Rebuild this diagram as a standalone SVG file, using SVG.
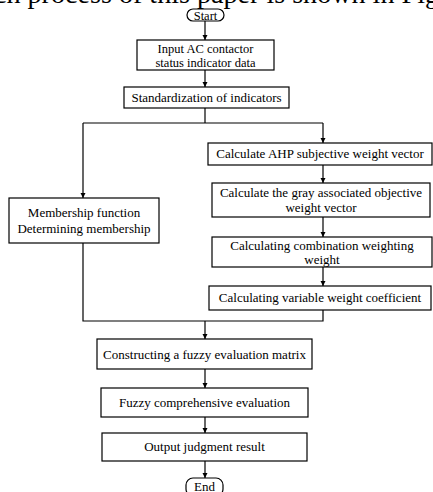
<svg xmlns="http://www.w3.org/2000/svg" width="433" height="492" viewBox="0 0 433 492">
<defs>
<style>
.box{fill:#fff;stroke:#000;stroke-width:1.2}
.t{font-family:"Liberation Serif","Times New Roman",serif;font-size:13px;fill:#000;text-anchor:middle}
.ln{fill:none;stroke:#000;stroke-width:1.2}
.bg{font-family:"Liberation Serif","Times New Roman",serif;font-size:27px;fill:#000}
</style>
<marker id="ah" viewBox="0 0 10 10" refX="10" refY="5" markerWidth="5" markerHeight="6" markerUnits="userSpaceOnUse" orient="auto">
<path d="M0,0 L10,5 L0,10 Z" fill="#000"/>
</marker>
</defs>
<rect width="433" height="492" fill="#fff"/>
<text class="bg" x="-6" y="3" textLength="445" lengthAdjust="spacingAndGlyphs">ch process of this paper is shown in Fig</text>
<g id="connectors">
<line class="ln" x1="205" y1="21" x2="205" y2="40" marker-end="url(#ah)"/>
<line class="ln" x1="205" y1="70" x2="205" y2="87" marker-end="url(#ah)"/>
<polyline class="ln" points="205,108 205,123"/>
<polyline class="ln" points="83,123 323,123"/>
<line class="ln" x1="83" y1="123" x2="83" y2="198" marker-end="url(#ah)"/>
<line class="ln" x1="323" y1="123" x2="323" y2="143" marker-end="url(#ah)"/>
<line class="ln" x1="323" y1="165" x2="323" y2="183" marker-end="url(#ah)"/>
<line class="ln" x1="323" y1="217" x2="323" y2="237" marker-end="url(#ah)"/>
<line class="ln" x1="323" y1="267" x2="323" y2="286" marker-end="url(#ah)"/>
<polyline class="ln" points="83,243 83,321 323,321 323,310"/>
<line class="ln" x1="205" y1="321" x2="205" y2="339" marker-end="url(#ah)"/>
<line class="ln" x1="205" y1="369" x2="205" y2="388" marker-end="url(#ah)"/>
<line class="ln" x1="205" y1="417" x2="205" y2="433" marker-end="url(#ah)"/>
<line class="ln" x1="205" y1="461" x2="205" y2="478" marker-end="url(#ah)"/>
</g>
<g id="start">
<rect class="box" x="187" y="9" width="37" height="12" rx="6"/>
<text class="t" x="205.5" y="19.5" style="font-size:12.5px">Start</text>
</g>
<g id="input">
<rect class="box" x="137" y="40" width="137" height="30"/>
<text class="t" x="205.5" y="53" style="font-size:12.5px">Input AC contactor</text>
<text class="t" x="205.5" y="67" style="font-size:12.5px">status indicator data</text>
</g>
<g id="standardization">
<rect class="box" x="124" y="87" width="165" height="21"/>
<text class="t" x="206.5" y="102">Standardization of indicators</text>
</g>
<g id="membership">
<rect class="box" x="9" y="198" width="150" height="45"/>
<text class="t" x="84" y="217">Membership function</text>
<text class="t" x="84" y="233">Determining membership</text>
</g>
<g id="ahp">
<rect class="box" x="208" y="143" width="224" height="22"/>
<text class="t" x="320" y="158">Calculate AHP subjective weight vector</text>
</g>
<g id="gray">
<rect class="box" x="212" y="183" width="218" height="34"/>
<text class="t" x="321" y="197">Calculate the gray associated objective</text>
<text class="t" x="321" y="212">weight vector</text>
</g>
<g id="combination">
<rect class="box" x="212" y="237" width="220" height="30"/>
<text class="t" x="322" y="250">Calculating combination weighting</text>
<text class="t" x="322" y="264">weight</text>
</g>
<g id="variable">
<rect class="box" x="209" y="286" width="222" height="24"/>
<text class="t" x="320" y="302">Calculating variable weight coefficient</text>
</g>
<g id="constructing">
<rect class="box" x="97" y="339" width="215" height="30"/>
<text class="t" x="204.5" y="359">Constructing a fuzzy evaluation matrix</text>
</g>
<g id="fuzzy">
<rect class="box" x="101" y="388" width="207" height="29"/>
<text class="t" x="204.5" y="407">Fuzzy comprehensive evaluation</text>
</g>
<g id="output">
<rect class="box" x="102" y="433" width="205" height="28"/>
<text class="t" x="204.5" y="451">Output judgment result</text>
</g>
<g id="end">
<rect class="box" x="186" y="478" width="37" height="18" rx="7"/>
<text class="t" x="204.5" y="490.5">End</text>
</g>
</svg>
